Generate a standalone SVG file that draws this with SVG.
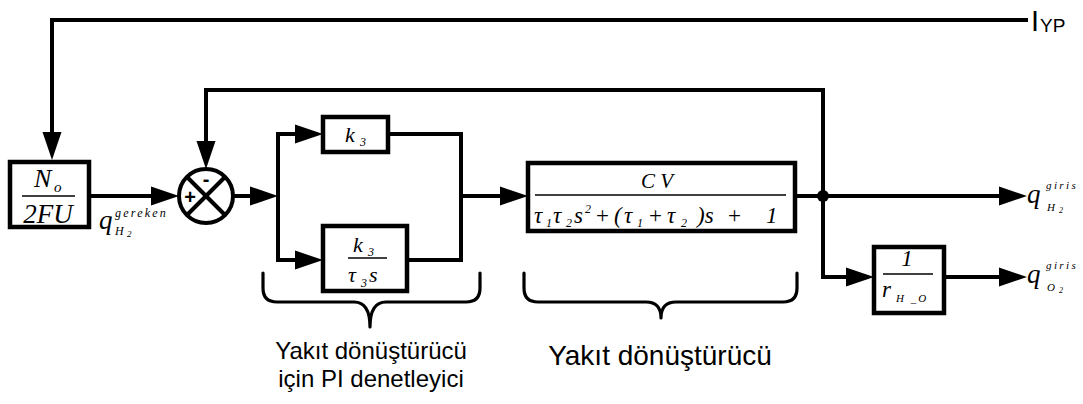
<svg xmlns="http://www.w3.org/2000/svg" width="1083" height="404" viewBox="0 0 1083 404">
  <style>
    .wire { fill: none; stroke: #000; stroke-width: 4; stroke-linejoin: miter; }
    .arrow { marker-end: url(#head); }
    .box { fill: #fff; stroke: #000; stroke-width: 4.5; }
    .bar { stroke: #000; stroke-width: 1.6; }
    .brace { fill: none; stroke: #000; stroke-width: 3.2; stroke-linecap: round; stroke-linejoin: round; }
    .m { font-family: "Liberation Serif", "Times New Roman", serif; font-style: italic; fill: #000; }
    .up { font-family: "Liberation Serif", "Times New Roman", serif; font-style: normal; }
    .s { font-family: "Liberation Sans", Arial, sans-serif; fill: #000; }
  </style>
  <defs>
    <marker id="head" markerUnits="userSpaceOnUse" markerWidth="28" markerHeight="20" refX="22" refY="10" orient="auto">
      <path d="M0,0.5 L28,10 L0,19.5 z" fill="#000"/>
    </marker>
  </defs>
  <rect width="1083" height="404" fill="#fff"/>

  <!-- connectors -->
  <g id="connectors">
    <path class="wire arrow" d="M1028,20 H52 V154"/>
    <path class="wire arrow" d="M89,196 H173"/>
    <path class="wire arrow" d="M823,196 V90 H206 V163"/>
    <path class="wire arrow" d="M233,196 H272"/>
    <path class="wire arrow" d="M278,196 V134 H317"/>
    <path class="wire arrow" d="M278,196 V260 H317"/>
    <path class="wire" d="M388,134 H461 V260 H407"/>
    <path class="wire arrow" d="M461,196 H522"/>
    <path class="wire arrow" d="M795,196 H1021"/>
    <path class="wire arrow" d="M823,196 V277 H868"/>
    <path class="wire arrow" d="M944,277 H1021"/>
    <circle cx="823" cy="196" r="6" fill="#000"/>
  </g>

  <!-- input signal -->
  <g id="iyp">
    <text class="s" x="1031" y="31" font-size="29">I</text>
    <text class="s" x="1040" y="32" font-size="19">YP</text>
  </g>

  <!-- gain N_o / 2FU -->
  <g id="gain">
    <rect class="box" x="10" y="162" width="79" height="65"/>
    <line class="bar" x1="22" y1="196" x2="75" y2="196"/>
    <text class="m" x="34" y="187" font-size="26">N</text>
    <text class="m" x="54" y="192" font-size="15">o</text>
    <text class="m" x="48" y="223" font-size="27" text-anchor="middle">2FU</text>
  </g>

  <!-- demand flow label -->
  <g id="q-demand">
    <text class="m" x="99" y="229" font-size="27">q</text>
    <text class="m" x="115" y="217" font-size="12" letter-spacing="2.2">gereken</text>
    <text class="m" x="115" y="235" font-size="12">H</text>
    <text class="m" x="127" y="237" font-size="9">2</text>
  </g>

  <!-- summing junction -->
  <g id="sum">
    <circle cx="206" cy="196" r="27" fill="#fff" stroke="#000" stroke-width="4"/>
    <line x1="187" y1="177" x2="225" y2="215" stroke="#000" stroke-width="4"/>
    <line x1="225" y1="177" x2="187" y2="215" stroke="#000" stroke-width="4"/>
    <text class="s" x="190" y="203.5" font-size="20" font-weight="bold" text-anchor="middle">+</text>
    <text class="s" x="206" y="186" font-size="20" font-weight="bold" text-anchor="middle">-</text>
  </g>

  <!-- proportional gain -->
  <g id="kp">
    <rect class="box" x="323" y="117" width="65" height="35"/>
    <text class="m" x="345" y="142" font-size="22">k</text>
    <text class="m" x="360" y="146" font-size="12">3</text>
  </g>

  <!-- integral gain -->
  <g id="ki">
    <rect class="box" x="323" y="226" width="84" height="65"/>
    <text class="m" x="353" y="252" font-size="22">k</text>
    <text class="m" x="368" y="256" font-size="12">3</text>
    <line class="bar" x1="348" y1="258" x2="387" y2="258"/>
    <text class="m" x="348" y="282" font-size="22">τ</text>
    <text class="m" x="361" y="287" font-size="12">3</text>
    <text class="m" x="369" y="282" font-size="22">s</text>
  </g>

  <!-- reformer transfer function -->
  <g id="reformer">
    <rect class="box" x="528" y="163" width="267" height="68"/>
    <text class="m" x="657" y="188" font-size="21" text-anchor="middle">C V</text>
    <line class="bar" x1="535" y1="195" x2="786" y2="195"/>
    <text class="m" font-size="23">
      <tspan x="534" y="223">τ</tspan><tspan x="546" y="227" font-size="12">1</tspan>
      <tspan x="553" y="223">τ</tspan><tspan x="566" y="227" font-size="12">2</tspan>
      <tspan x="574" y="223">s</tspan><tspan x="585" y="213" font-size="12">2</tspan>
      <tspan x="596" y="223" class="up">+</tspan>
      <tspan x="614" y="223">(</tspan>
      <tspan x="624" y="223">τ</tspan><tspan x="637" y="227" font-size="12">1</tspan>
      <tspan x="649" y="223" class="up">+</tspan>
      <tspan x="667" y="223">τ</tspan><tspan x="681" y="227" font-size="12">2</tspan>
      <tspan x="697" y="223">)s</tspan>
      <tspan x="728" y="223" class="up">+</tspan>
      <tspan x="766" y="223">1</tspan>
    </text>
  </g>

  <!-- oxygen ratio -->
  <g id="ratio">
    <rect class="box" x="874" y="247" width="70" height="66"/>
    <text class="m" x="907" y="266" font-size="23" text-anchor="middle">1</text>
    <line class="bar" x1="883" y1="274" x2="933" y2="274"/>
    <text class="m" x="882" y="297" font-size="23">r</text>
    <text class="m" x="896" y="302" font-size="11" letter-spacing="2">H _O</text>
  </g>

  <!-- outputs -->
  <g id="q-h2">
    <text class="m" x="1027" y="203" font-size="27">q</text>
    <text class="m" x="1046" y="189" font-size="11" letter-spacing="2.4">giris</text>
    <text class="m" x="1047" y="211" font-size="11">H</text>
    <text class="m" x="1059" y="213" font-size="8">2</text>
  </g>
  <g id="q-o2">
    <text class="m" x="1027" y="283" font-size="27">q</text>
    <text class="m" x="1046" y="269" font-size="11" letter-spacing="2.4">giris</text>
    <text class="m" x="1047" y="291" font-size="11">O</text>
    <text class="m" x="1059" y="293" font-size="8">2</text>
  </g>

  <!-- braces and captions -->
  <g id="pi-caption">
    <path class="brace" d="M263,273 V288 Q263,302 277,302 H354 Q370,302 370,327 Q370,302 386,302 H466 Q480,302 480,288 V273"/>
    <text class="s" x="371" y="359" font-size="24" text-anchor="middle">Yakıt dönüştürücü</text>
    <text class="s" x="371" y="387" font-size="24" text-anchor="middle">için PI denetleyici</text>
  </g>
  <g id="reformer-caption">
    <path class="brace" d="M524,273 V288 Q524,302 538,302 H646 Q661,302 661,318 Q661,302 676,302 H783 Q797,302 797,288 V273"/>
    <text class="s" x="660" y="365" font-size="28" text-anchor="middle">Yakıt dönüştürücü</text>
  </g>
</svg>
